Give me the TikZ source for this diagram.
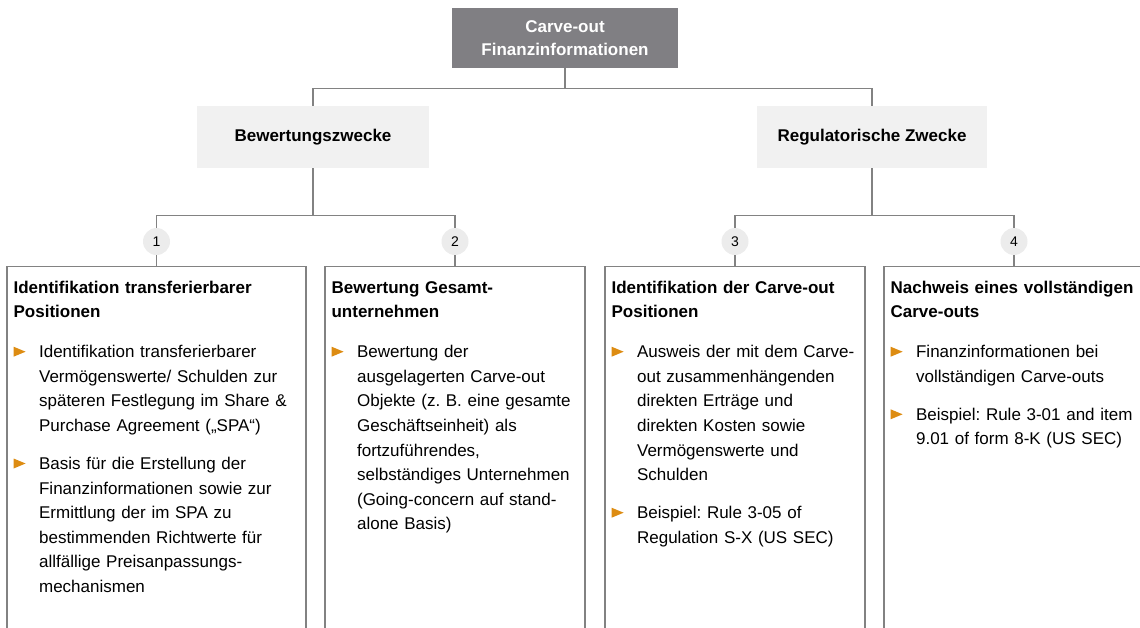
\documentclass[tikz,border=0pt]{standalone}
\usepackage{fontspec}
\setmainfont{Liberation Sans}
\frenchspacing
\usepackage{color}
\definecolor{mygrey}{RGB}{128,127,131}
\definecolor{mylightgrey}{RGB}{241,241,241}
\definecolor{mycirclegrey}{RGB}{236,236,236}
\definecolor{mylinegrey}{RGB}{130,130,130}
\definecolor{myorange}{RGB}{221,140,18}
\usepackage{tikz}
\usetikzlibrary{calc,positioning}
\tikzstyle{conn}=[draw=mylinegrey,line width=1.2pt]
\tikzstyle{topbox}=[fill=mygrey,text=white,align=center,inner sep=0pt,minimum width=226pt,minimum height=60pt,font=\bfseries\fontsize{17}{23}\selectfont]
\tikzstyle{purpose}=[fill=mylightgrey,inner sep=0pt,minimum height=62pt,font=\bfseries\fontsize{17}{23}\selectfont]
\tikzstyle{num}=[circle,fill=mycirclegrey,minimum size=27pt,inner sep=0pt,font=\fontsize{14}{14}\selectfont]
\tikzstyle{column}=[draw=mylinegrey,line width=1.2pt,minimum height=420pt,anchor=north]
\tikzstyle{coltext}=[anchor=base west,inner sep=0pt,align=left,text width=300pt,font=\fontsize{17}{24.6}\selectfont]
\newcommand{\bul}{\tikz[baseline=0pt]\fill[myorange] (0pt,1pt) -- (0pt,11pt) -- (12pt,6pt) -- cycle;}
\newcommand{\colhead}[1]{\textbf{#1}\par\vspace{15.5pt}}
\newcommand{\colitem}[1]{\leftskip=25.5pt\noindent\llap{\makebox[25.5pt][l]{\bul}}#1\par\vspace{13.4pt}}

\begin{document}
\begin{tikzpicture}[x=1pt,y=-1pt]
\clip (0,0) rectangle (1140,627);
% tree
\node[topbox] (root) at (565,38) {Carve-out\\Finanzinformationen};
\node[purpose,minimum width=232pt] (bw) at (313,137) {Bewertungszwecke};
\node[purpose,minimum width=230pt] (rz) at (872,137) {Regulatorische Zwecke};
\node[num] (n1) at (156.5,241.5) {1};
\node[num] (n2) at (455,241.5) {2};
\node[num] (n3) at (735,241.5) {3};
\node[num] (n4) at (1014,241.5) {4};
\node[column,minimum width=299pt] (c1) at (156.5,266) {};
\node[column,minimum width=260pt] (c2) at (455,266) {};
\node[column,minimum width=260pt] (c3) at (735,266) {};
\node[column,minimum width=260pt] (c4) at (1014,266) {};
\draw[conn] (root.south) -- ++(0,20) -| (bw.north);
\draw[conn] (root.south) -- ++(0,20) -| (rz.north);
\draw[conn] (bw.south) -- ++(0,47) -| (n1.north);
\draw[conn] (bw.south) -- ++(0,47) -| (n2.north);
\draw[conn] (rz.south) -- ++(0,47) -| (n3.north);
\draw[conn] (rz.south) -- ++(0,47) -| (n4.north);
\foreach \i in {1,...,4}
  \draw[conn] (n\i) -- (c\i.north);
% column texts
\node[coltext] (t1) at ($(c1.north west)+(7,27)$) {%
  \colhead{Identifikation transferierbarer\\Positionen}
  \colitem{Identifikation transferierbarer\\Vermögenswerte/ Schulden zur\\späteren Festlegung im Share \&\\Purchase Agreement („SPA“)}
  \colitem{Basis für die Erstellung der\\Finanzinformationen sowie zur\\Ermittlung der im SPA zu\\bestimmenden Richtwerte für\\allfällige Preisanpassungs-\\mechanismen}};
\node[coltext] (t2) at ($(c2.north west)+(7,27)$) {%
  \colhead{Bewertung Gesamt-\\unternehmen}
  \colitem{Bewertung der\\ausgelagerten Carve-out\\Objekte (z. B. eine gesamte\\Geschäftseinheit) als\\fortzuführendes,\\selbständiges Unternehmen\\(Going-concern auf stand-\\alone Basis)}};
\node[coltext] (t3) at ($(c3.north west)+(7,27)$) {%
  \colhead{Identifikation der Carve-out\\Positionen}
  \colitem{Ausweis der mit dem Carve-\\out zusammenhängenden\\direkten Erträge und\\direkten Kosten sowie\\Vermögenswerte und\\Schulden}
  \colitem{Beispiel: Rule 3-05 of\\Regulation S-X (US SEC)}};
\node[coltext] (t4) at ($(c4.north west)+(7,27)$) {%
  \colhead{Nachweis eines vollständigen\\Carve-outs}
  \colitem{Finanzinformationen bei\\vollständigen Carve-outs}
  \colitem{Beispiel: Rule 3-01 and item\\9.01 of form 8-K (US SEC)}};
\end{tikzpicture}
\end{document}
